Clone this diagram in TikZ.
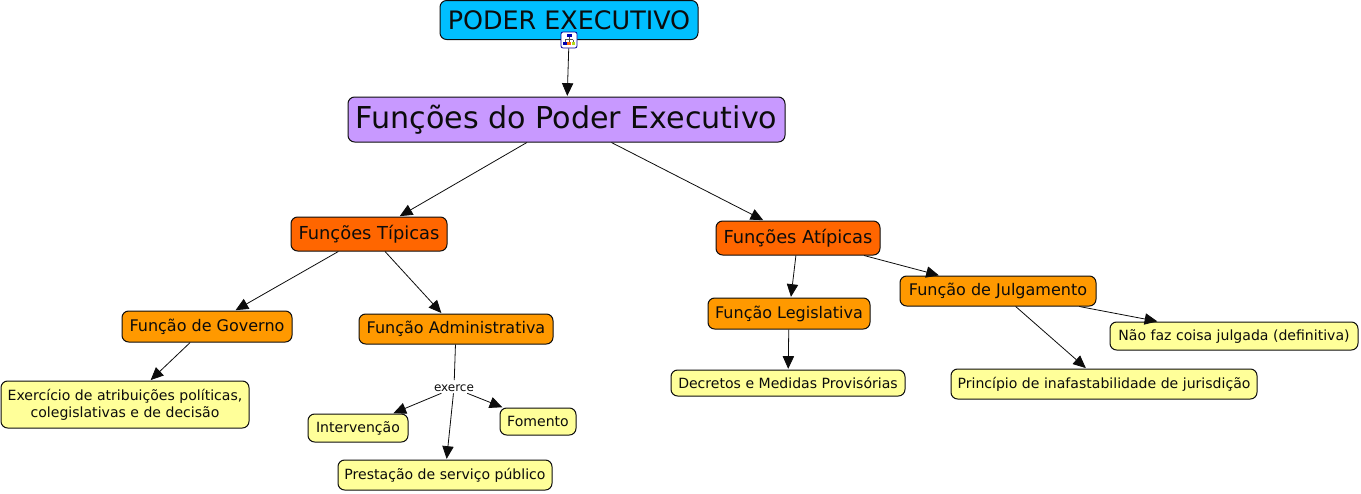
\documentclass[tikz,border=0pt]{standalone}
\usepackage{fontspec}
\setmainfont{DejaVu Sans}
\usepackage{xcolor}
\usepackage{tikz}
\usetikzlibrary{arrows.meta}

\definecolor{ceucolor}{HTML}{00BFFF}
\definecolor{roxocolor}{HTML}{C899FF}
\definecolor{laranjaforte}{HTML}{FF6600}
\definecolor{laranjacolor}{HTML}{FF9900}
\definecolor{amarelocolor}{HTML}{FFFF99}
\definecolor{bordacolor}{HTML}{0C0C0C}

\tikzset{
    caixa/.style={draw=bordacolor, line width=0.75pt, rounded corners=5pt, inner sep=0pt, align=center, text=bordacolor},
    topo/.style={caixa, fill=ceucolor, font=\fontsize{19.05}{22}\selectfont},
    titulo/.style={caixa, fill=roxocolor, font=\fontsize{22.6}{27}\selectfont},
    funcao/.style={caixa, fill=laranjaforte, font=\fontsize{13.4}{15}\selectfont},
    subfuncao/.style={caixa, fill=laranjacolor, font=\fontsize{12}{14}\selectfont},
    folha/.style={caixa, fill=amarelocolor, font=\fontsize{10.55}{12.6}\selectfont},
    ligacao/.style={draw=bordacolor, line width=0.6pt, -{Triangle[length=9.5pt,width=8.5pt]}, shorten >=0.5pt},
    rotulo/.style={inner sep=0pt, minimum width=30pt, minimum height=7.5pt, font=\fontsize{9}{11}\selectfont, text=bordacolor},
    icone/.style={draw=blue!60!black, fill=white, line width=0.6pt, rounded corners=1.5pt, inner sep=0pt, minimum size=12pt}
}

\begin{document}
\begin{tikzpicture}[x=0.75pt, y=-0.75pt]
    \useasboundingbox (0,0) rectangle (1361,493);

    \foreach \name/\x/\y/\w/\h/\sty/\label in {
        poder/569/20/258/39/topo/{PODER EXECUTIVO},
        funcoes/566.5/119.5/437/45/titulo/{Funções do Poder Executivo},
        tipicas/369/234/156/34/funcao/{Funções Típicas},
        atipicas/798/238/164/34/funcao/{Funções Atípicas},
        governo/207/326.5/170/31/subfuncao/{Função de Governo},
        administrativa/456/329/194/30/subfuncao/{Função Administrativa},
        legislativa/789/313.5/162/31/subfuncao/{Função Legislativa},
        julgamento/998/291/196/30/subfuncao/{Função de Julgamento},
        exercicio/125/404.5/248/47/folha/{Exercício de atribuições políticas,\\colegislativas e de decisão},
        intervencao/358/428/100/28/folha/{Intervenção},
        fomento/538/421.5/76/27/folha/{Fomento},
        prestacao/445/475/214/30/folha/{Prestação de serviço público},
        decretos/788/383/234/26/folha/{Decretos e Medidas Provisórias},
        principio/1104/384/306/30/folha/{Princípio de inafastabilidade de jurisdição},
        naofaz/1234/336/248/28/folha/{Não faz coisa julgada (definitiva)}%
    }{
        \node[\sty, minimum width=\w*0.75pt, minimum height=\h*0.75pt] (\name) at (\x,\y) {\label};
    }

    \node[rotulo] (exerce) at (454,388) {exerce};
    \node[icone] (arvore) at (569,40) {};

    % icone da arvore
    \draw[line width=0.4pt, bordacolor!70] (569,36) -- (569,43) (565,39.5) -- (573,39.5) (565,39.5) -- (565,43) (573,39.5) -- (573,43);
    \fill[blue!70!black] (566.5,34) rectangle (571.5,37);
    \fill[blue!70!black] (563,42) rectangle (566.5,45);
    \fill[orange!80!red] (567.3,42) rectangle (570.7,45);
    \fill[yellow!70!green] (571.5,42) rectangle (575,45);

    \foreach \a/\b in {
        arvore/funcoes,
        funcoes/tipicas,
        funcoes/atipicas,
        tipicas/governo,
        tipicas/administrativa,
        governo/exercicio,
        atipicas/legislativa,
        atipicas/julgamento,
        legislativa/decretos,
        julgamento/principio,
        julgamento/naofaz,
        exerce/intervencao,
        exerce/prestacao,
        exerce/fomento%
    }{
        \draw[ligacao] (\a) -- (\b);
    }
    \draw[draw=bordacolor, line width=0.6pt, shorten >=2pt] (administrativa) -- (exerce);
\end{tikzpicture}
\end{document}
